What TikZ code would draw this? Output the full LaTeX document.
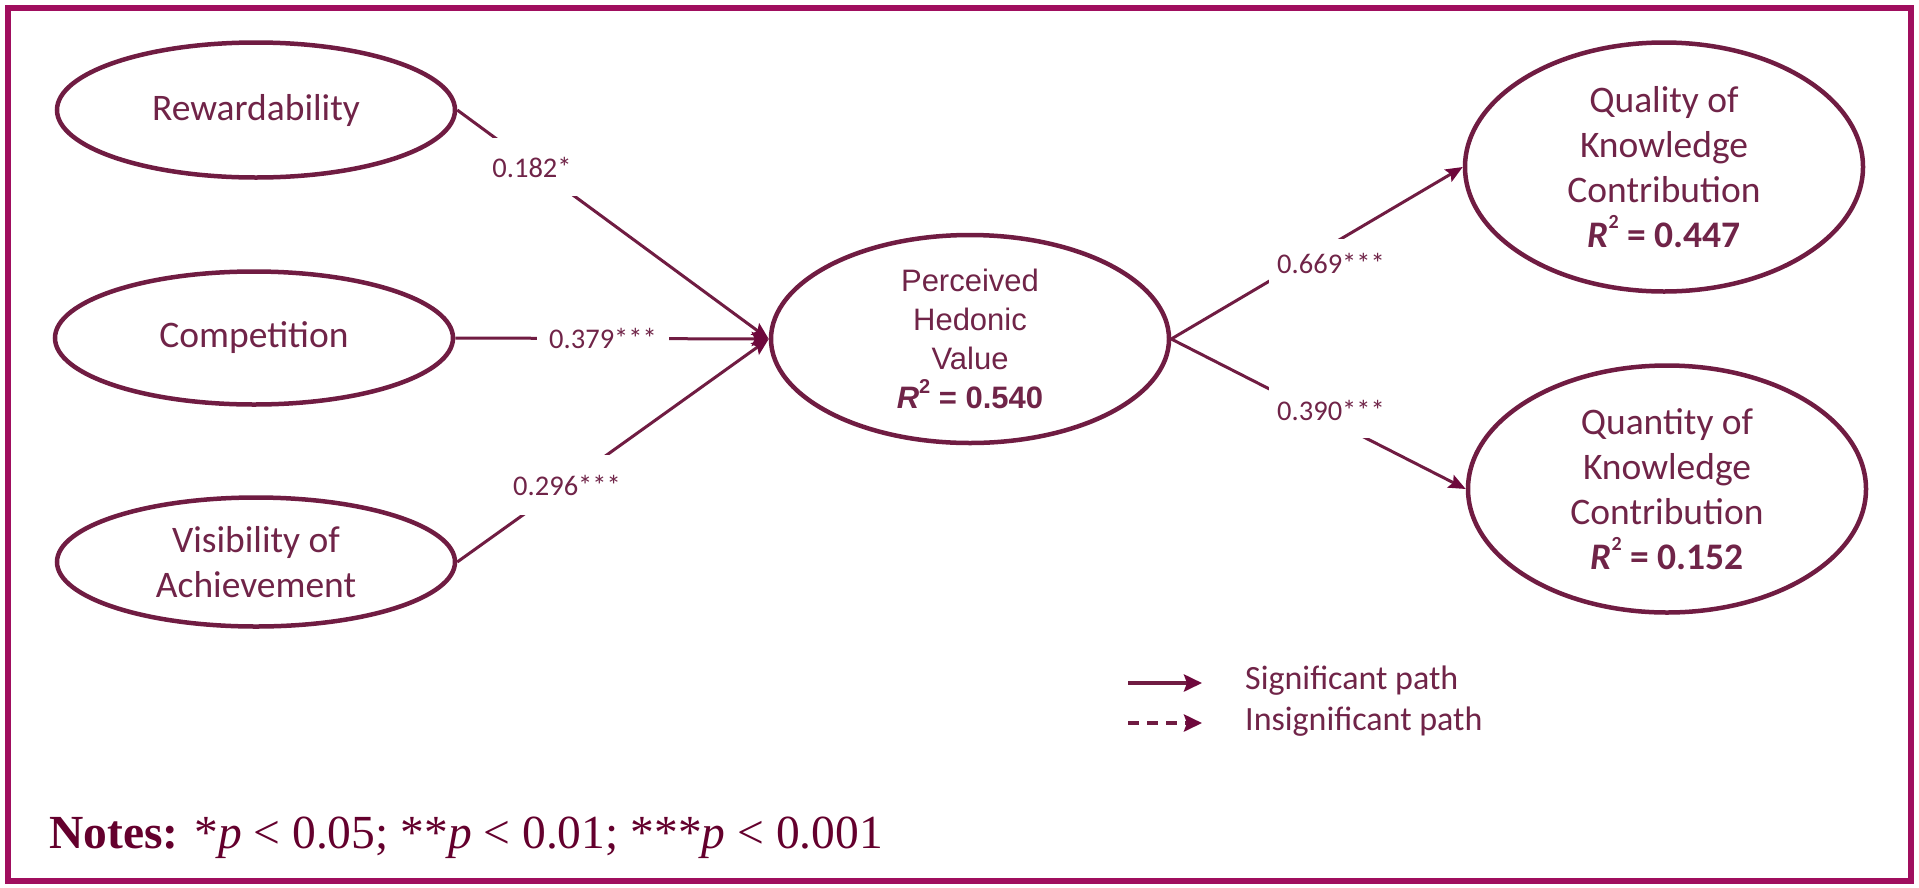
\documentclass[tikz,border=0pt]{standalone}
\usepackage{fontspec}
\setmainfont{Carlito}
\newfontfamily\arialf{Liberation Sans}
\newfontfamily\timesf{Liberation Serif}
\usetikzlibrary{arrows.meta,shapes.geometric}
\definecolor{framec}{RGB}{160,14,94}
\definecolor{linec}{RGB}{112,28,66}
\definecolor{textc}{RGB}{112,36,72}
\definecolor{tipc}{RGB}{110,8,60}
\definecolor{notec}{RGB}{100,0,45}
\newcommand{\rsq}{\textit{R}\raisebox{0.5em}{\fontsize{20}{20}\selectfont 2}}
\begin{document}
\begin{tikzpicture}[x=1pt,y=-1pt,
  construct/.style={ellipse, draw=linec, line width=4.5pt, minimum width=398pt, inner sep=0pt, align=center, text=textc, font=\fontsize{37.5}{45}\selectfont},
  pathlabel/.style={fill=white, inner xsep=8pt, text=textc, font=\fontsize{28.5}{32}\selectfont},
  sigpath/.style={draw=linec, line width=3pt, -{Stealth[length=17pt,width=14pt,inset=3pt,color=tipc]}},
  legpath/.style={draw=linec, line width=4pt, -{Stealth[length=18pt,width=17pt,inset=3pt,color=tipc]}},
  legtext/.style={anchor=west, inner sep=0pt, text=textc, font=\fontsize{34}{40}\selectfont}
]
\useasboundingbox (0,0) rectangle (1919,887);
\fill[white] (0,0) rectangle (1919,887);
\draw[framec, line width=6pt] (8,8) rectangle (1911,881);

% constructs
\node[construct, minimum height=135pt] (rew) at (256,110) {Rewardability};
\node[construct, minimum height=133pt] (comp) at (254,338) {Competition};
\node[construct, minimum height=129pt] (vis) at (256,562) {Visibility of\\Achievement};
\node[construct, minimum height=208pt, font=\arialf\fontsize{31}{39}\selectfont] (phv) at (970,339) {Perceived\\Hedonic\\Value\\\textbf{\rsq{} = 0.540}};
\node[construct, minimum height=249pt] (qual) at (1664,167) {Quality of\\Knowledge\\Contribution\\\textbf{\rsq{} = 0.447}};
\node[construct, minimum height=247pt] (quan) at (1667,489) {Quantity of\\Knowledge\\Contribution\\\textbf{\rsq{} = 0.152}};

% paths
\draw[sigpath] (rew.east) -- (phv.west);
\draw[sigpath] (comp.east) -- (phv.west);
\draw[sigpath] (vis.east) -- (phv.west);
\draw[sigpath] (phv.east) -- (qual.west);
\draw[sigpath] (phv.east) -- (quan.west);

% path labels
\node[pathlabel, inner ysep=19pt, inner xsep=6pt] (l1) at (532,167) {0.182*};
\node[pathlabel, inner ysep=3pt, inner xsep=12pt] (l2) at (603,338) {0.379***};
\node[pathlabel, inner ysep=20pt] (l3) at (567,485) {0.296***};
\node[pathlabel, inner ysep=14pt] (l4) at (1331,263) {0.669***};
\node[pathlabel, inner ysep=18pt] (l5) at (1331,410) {0.390***};

% legend
\coordinate (s1) at (1128,683);
\coordinate (s2) at (1202,683);
\coordinate (d1) at (1128,723);
\coordinate (d2) at (1202,723);
\draw[legpath] (s1) -- (s2);
\draw[legpath, dash pattern=on 11pt off 8pt] (d1) -- (d2);
\node[legtext] (sig) at (1245,681) {Significant path};
\node[legtext] (insig) at (1245,722) {Insignificant path};

% notes
\node[anchor=west, inner sep=0pt, text=notec, font=\timesf\fontsize{47.5}{50}\selectfont] (notes) at (49,838) {\textbf{Notes:} *\textit{p} < 0.05; **\textit{p} < 0.01; ***\textit{p} < 0.001};
\end{tikzpicture}
\end{document}
